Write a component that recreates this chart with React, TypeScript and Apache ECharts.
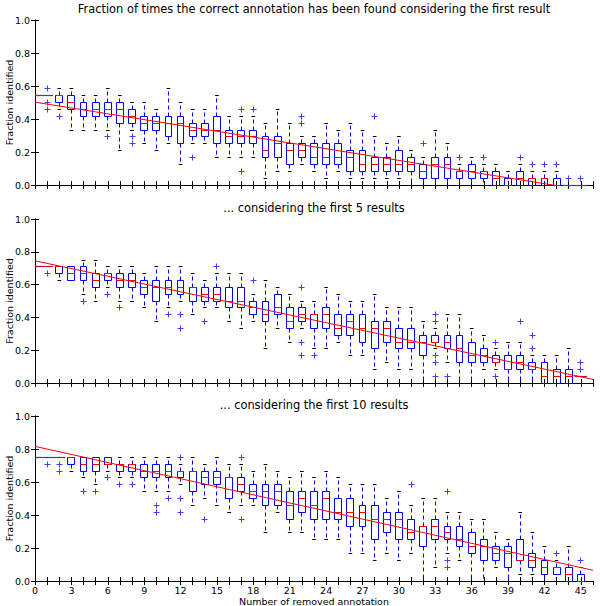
import { useEffect, useRef } from "react";
import * as echarts from "echarts";

// Every value is a count of identified annotations out of 24.
const DENOM = 24;
const X_MIN = 0;
const X_MAX = 46;
const FONT = "DejaVu Sans";

const PANEL_TITLES = [
  "Fraction of times the correct annotation has been found considering the first result",
  "... considering the first 5 results",
  "... considering the first 10 results",
];
const Y_NAME = "Fraction identified";
const X_NAME = "Number of removed annotation";

// [min, q1, median, q3, max] per number of removed annotations (0..45)
const panel1Boxes = [
  [13, 13, 13, 13, 13], [13, 13, 13, 13, 13], [11, 12, 13, 13, 14], [8, 11, 12, 13, 14],
  [8, 10, 11, 12, 13], [8, 10, 11, 12, 13], [8, 10, 11, 12, 14], [5, 9, 11, 12, 13],
  [8, 9, 10, 11, 12], [6, 8, 9, 10, 12], [5, 8, 9, 10, 11], [6, 7, 9, 10, 14],
  [3, 6, 9, 10, 12], [6, 7, 8, 9, 11], [6, 7, 8, 9, 11], [4, 6, 8, 10, 13],
  [4, 6, 7, 8, 10], [4, 6, 7, 8, 10], [4, 6, 7, 8, 10], [1, 4, 5, 7, 9],
  [2, 4, 6, 7, 11], [2, 3, 5, 6, 9], [3, 4, 5, 6, 7], [2, 3, 4, 6, 7],
  [1, 3, 4, 6, 9], [2, 3, 4, 6, 8], [1, 2, 4, 5, 9], [1, 2, 3, 5, 8],
  [1, 2, 3, 4, 7], [1, 2, 3, 4, 6], [1, 2, 3, 5, 7], [0, 2, 3, 4, 5],
  [0, 1, 2, 3, 4], [0, 1, 3, 4, 8], [0, 1, 3, 4, 6], [0, 1, 2, 2, 3],
  [0, 1, 2, 3, 4], [0, 1, 2, 2, 3], [0, 0, 1, 2, 3], [0, 0, 0, 1, 2],
  [0, 0, 1, 2, 3], [0, 0, 1, 1, 2], [0, 0, 1, 1, 2], [0, 0, 0, 1, 2],
  [0, 0, 0, 0, 0], [0, 0, 0, 0, 0],
];
const panel1Outliers = [
  [1, 14], [1, 12], [1, 11], [2, 10], [6, 7], [8, 7], [8, 6], [13, 4], [17, 11], [17, 2],
  [18, 11], [22, 9], [22, 10], [28, 10], [32, 6], [35, 4], [37, 4], [40, 4], [41, 3],
  [42, 3], [43, 3], [44, 1], [45, 1],
];
const panel1Fit = [0.502, -0.039]; // fitted line value at x = 0 and x = 46

const panel2Boxes = [
  [17, 17, 17, 17, 17], [17, 17, 17, 17, 17], [15, 16, 17, 17, 17], [15, 15, 16, 17, 17],
  [13, 15, 16, 17, 18], [12, 14, 15, 16, 18], [14, 15, 16, 16, 17], [12, 14, 15, 16, 17],
  [12, 14, 15, 16, 17], [11, 13, 14, 15, 16], [9, 12, 14, 15, 17], [11, 13, 14, 15, 17],
  [12, 13, 14, 15, 17], [10, 12, 14, 14, 16], [11, 12, 13, 14, 15], [11, 12, 13, 14, 16],
  [9, 11, 12, 14, 16], [8, 11, 12, 14, 16], [9, 10, 11, 12, 13], [5, 9, 10, 12, 15],
  [8, 10, 11, 13, 14], [6, 8, 9, 11, 13], [8, 9, 10, 11, 12], [5, 8, 10, 10, 12],
  [5, 8, 10, 11, 14], [6, 7, 8, 10, 13], [4, 7, 9, 10, 12], [4, 6, 8, 10, 12],
  [2, 5, 8, 9, 13], [3, 6, 8, 9, 11], [2, 5, 6, 8, 11], [2, 5, 6, 8, 11],
  [0, 4, 6, 7, 9], [5, 6, 6, 7, 8], [3, 5, 6, 7, 10], [0, 3, 5, 7, 10],
  [0, 3, 4, 6, 8], [2, 3, 4, 5, 7], [2, 3, 3, 4, 5], [0, 2, 2, 4, 6],
  [0, 2, 3, 4, 6], [0, 2, 2, 3, 4], [0, 0, 1, 3, 4], [0, 0, 1, 2, 4],
  [0, 0, 1, 2, 5], [1, 1, 1, 1, 1],
];
const panel2Outliers = [
  [1, 16], [4, 12], [6, 13], [7, 11], [11, 10], [12, 10], [12, 8], [14, 9], [15, 17],
  [18, 15], [22, 14], [22, 6], [22, 4], [23, 4], [33, 10], [33, 9], [33, 4], [33, 3],
  [33, 1], [34, 1], [38, 6], [38, 1], [40, 9], [41, 5], [41, 7], [45, 3], [45, 2],
];
const panel2Fit = [0.745, 0.022];

const panel3Boxes = [
  [18, 18, 18, 18, 18], [18, 18, 18, 18, 18], [18, 18, 18, 18, 18], [16, 17, 18, 18, 18],
  [15, 16, 17, 18, 18], [14, 16, 17, 18, 18], [16, 17, 17, 18, 18], [15, 16, 17, 17, 18],
  [15, 16, 17, 17, 18], [13, 15, 16, 17, 18], [13, 15, 16, 17, 18], [13, 15, 16, 17, 18],
  [14, 15, 16, 16, 17], [11, 13, 16, 16, 18], [12, 14, 15, 16, 17], [11, 14, 15, 16, 18],
  [10, 12, 15, 15, 17], [11, 13, 14, 15, 17], [11, 12, 13, 14, 16], [7, 11, 13, 14, 17],
  [10, 11, 13, 14, 16], [7, 9, 11, 13, 15], [7, 10, 12, 13, 16], [6, 9, 11, 13, 15],
  [6, 9, 12, 13, 16], [6, 9, 10, 12, 15], [4, 8, 10, 12, 14], [4, 8, 10, 11, 14],
  [3, 6, 9, 11, 14], [4, 7, 9, 10, 12], [3, 6, 9, 10, 13], [4, 6, 7, 9, 11],
  [0, 5, 8, 8, 12], [2, 6, 8, 9, 12], [4, 6, 7, 8, 10], [3, 5, 6, 8, 10],
  [0, 4, 5, 7, 9], [0, 3, 5, 6, 9], [2, 3, 4, 5, 7], [0, 2, 4, 5, 6],
  [1, 3, 3, 6, 10], [1, 2, 3, 4, 7], [0, 1, 2, 3, 5], [1, 1, 2, 2, 3],
  [0, 0, 1, 2, 5], [0, 0, 0, 1, 2],
];
const panel3Outliers = [
  [1, 17], [2, 17], [2, 16], [4, 13], [5, 13], [6, 15], [7, 14], [8, 14], [10, 11],
  [10, 10], [11, 12], [12, 18], [12, 12], [12, 10], [14, 9], [17, 18], [17, 9], [31, 14],
  [34, 13], [34, 3], [34, 2], [43, 4], [45, 3],
];
const panel3Fit = [0.816, 0.065];

const PANELS = [
  { boxes: panel1Boxes, outliers: panel1Outliers, fit: panel1Fit },
  { boxes: panel2Boxes, outliers: panel2Outliers, fit: panel2Fit },
  { boxes: panel3Boxes, outliers: panel3Outliers, fit: panel3Fit },
];

const GRIDS = [
  { left: 35, top: 20, width: 558, height: 165 },
  { left: 35, top: 219, width: 558, height: 164 },
  { left: 35, top: 416, width: 558, height: 165 },
];
const TITLE_TOPS = [3, 202, 399];

const BLUE = "#0000ff";
const RED = "#ff0000";
const BOX_HALF = 0.28;
const CAP_HALF = 0.15;
const DEGEN_HALF = 0.5;

const crisp = (v: number) => Math.round(v - 0.5) + 0.5;

function boxRender(params: any, api: any) {
  const cs = params.coordSys;
  const lo = cs.x;
  const hi = cs.x + cs.width;
  const clampX = (v: number) => Math.max(lo, Math.min(hi, v));
  const p = api.value(0);
  const mn = api.value(1), q1 = api.value(2), md = api.value(3), q3 = api.value(4), mx = api.value(5);
  const X = (dx: number) => clampX(api.coord([p + dx, 0])[0]);
  const Y = (v: number) => crisp(api.coord([p, v])[1]);
  const xc = crisp(api.coord([p, 0])[0]);
  const ch: any[] = [];
  if (mx > q3)
    ch.push({ type: "line", shape: { x1: xc, y1: Y(q3), x2: xc, y2: Y(mx) }, style: { stroke: BLUE, lineWidth: 1, lineDash: [4, 3] } });
  if (mn < q1)
    ch.push({ type: "line", shape: { x1: xc, y1: Y(q1), x2: xc, y2: Y(mn) }, style: { stroke: BLUE, lineWidth: 1, lineDash: [4, 3] } });
  ch.push({ type: "line", shape: { x1: X(-CAP_HALF), y1: Y(mx), x2: X(CAP_HALF), y2: Y(mx) }, style: { stroke: "#000", lineWidth: 1 } });
  ch.push({ type: "line", shape: { x1: X(-CAP_HALF), y1: Y(mn), x2: X(CAP_HALF), y2: Y(mn) }, style: { stroke: "#000", lineWidth: 1 } });
  if (q3 > q1) {
    const xl = crisp(X(-BOX_HALF));
    const xr = crisp(X(BOX_HALF));
    ch.push({ type: "rect", shape: { x: xl, y: Y(q3), width: xr - xl, height: Y(q1) - Y(q3) }, style: { fill: "none", stroke: BLUE, lineWidth: 1 } });
    ch.push({ type: "line", shape: { x1: xl, y1: Y(md), x2: xr, y2: Y(md) }, style: { stroke: RED, lineWidth: 1 } });
  } else {
    ch.push({ type: "line", shape: { x1: X(-DEGEN_HALF), y1: Y(md), x2: X(DEGEN_HALF), y2: Y(md) }, style: { stroke: "#3030c0", lineWidth: 1.2 } });
    ch.push({ type: "line", shape: { x1: X(-DEGEN_HALF), y1: Y(md), x2: X(DEGEN_HALF), y2: Y(md) }, style: { stroke: RED, lineWidth: 1.2, lineDash: [4, 3] } });
  }
  return { type: "group", children: ch };
}

function fliersRender(_params: any, api: any) {
  const pt = api.coord([api.value(0), api.value(1)]);
  const x = crisp(pt[0]);
  const y = crisp(pt[1]);
  const s = 3;
  return {
    type: "group",
    children: [
      { type: "line", shape: { x1: x - s, y1: y, x2: x + s, y2: y }, style: { stroke: "#4040ff", lineWidth: 1 } },
      { type: "line", shape: { x1: x, y1: y - s, x2: x, y2: y + s }, style: { stroke: "#4040ff", lineWidth: 1 } },
    ],
  };
}

function buildOption() {
  const xAxis: any[] = [];
  const yAxis: any[] = [];
  const series: any[] = [];
  const axisLine = { show: true, lineStyle: { color: "#000", width: 1 } };
  const tick = { show: true, inside: true, length: 4, lineStyle: { color: "#000" } };
  PANELS.forEach((panel, i) => {
    const last = i === PANELS.length - 1;
    xAxis.push({
      type: "value", gridIndex: i, min: X_MIN, max: X_MAX, interval: 1, position: "bottom",
      axisLine, axisTick: tick, splitLine: { show: false },
      axisLabel: {
        show: last, margin: 4, color: "#000", fontSize: 9.5, fontFamily: FONT,
        formatter: (v: number) => (v % 3 === 0 && v <= 45 ? String(v) : ""),
        showMaxLabel: false,
      },
      name: last ? X_NAME : "", nameLocation: "middle", nameGap: 15, nameMoveOverlap: false,
      nameTextStyle: { color: "#000", fontSize: 9.5, fontFamily: FONT },
    });
    xAxis.push({
      type: "value", gridIndex: i, min: X_MIN, max: X_MAX, interval: 1, position: "top",
      axisLine, axisTick: tick, splitLine: { show: false }, axisLabel: { show: false },
    });
    yAxis.push({
      type: "value", gridIndex: i, min: 0, max: 1, interval: 0.2, position: "left",
      axisLine, axisTick: tick, splitLine: { show: false },
      axisLabel: { margin: 5, color: "#000", fontSize: 9.5, fontFamily: FONT, formatter: (v: number) => v.toFixed(1) },
      name: Y_NAME, nameLocation: "middle", nameGap: 21, nameRotate: 90, nameMoveOverlap: false,
      nameTextStyle: { color: "#000", fontSize: 9.5, fontFamily: FONT },
    });
    yAxis.push({
      type: "value", gridIndex: i, min: 0, max: 1, interval: 0.2, position: "right",
      axisLine, axisTick: tick, splitLine: { show: false }, axisLabel: { show: false },
    });
    series.push({
      type: "custom", xAxisIndex: i * 2, yAxisIndex: i * 2,
      data: panel.boxes.map((b, k) => [k, ...b.map((v) => v / DENOM)]),
      encode: { x: 0, y: [1, 2, 3, 4, 5] },
      renderItem: boxRender, z: 2, silent: true,
    });
    series.push({
      type: "custom", xAxisIndex: i * 2, yAxisIndex: i * 2,
      data: panel.outliers.map(([k, v]) => [k, v / DENOM]),
      encode: { x: 0, y: 1 },
      renderItem: fliersRender, z: 3, silent: true,
    });
    series.push({
      type: "line", xAxisIndex: i * 2, yAxisIndex: i * 2,
      data: [[X_MIN, panel.fit[0]], [X_MAX, panel.fit[1]]],
      symbol: "none", clip: true, lineStyle: { color: RED, width: 1 }, z: 4, silent: true,
    });
  });
  return {
    animation: false,
    backgroundColor: "#fff",
    textStyle: { fontFamily: FONT },
    title: PANEL_TITLES.map((t, i) => ({
      text: t, left: 314, top: TITLE_TOPS[i], textAlign: "center", padding: 0,
      textStyle: { color: "#000", fontSize: 11.4, fontWeight: "normal", fontFamily: FONT },
    })),
    grid: GRIDS.map((g) => ({ ...g, containLabel: false, outerBoundsMode: "none" })),
    xAxis, yAxis, series,
  };
}

export default function App() {
  const ref = useRef<HTMLDivElement>(null);
  useEffect(() => {
    if (!ref.current) return;
    const chart = echarts.init(ref.current, null, { renderer: "svg" });
    chart.setOption(buildOption() as any);
    return () => chart.dispose();
  }, []);
  return <div ref={ref} style={{ position: "absolute", left: 0, top: 0, width: 600, height: 606 }} />;
}
